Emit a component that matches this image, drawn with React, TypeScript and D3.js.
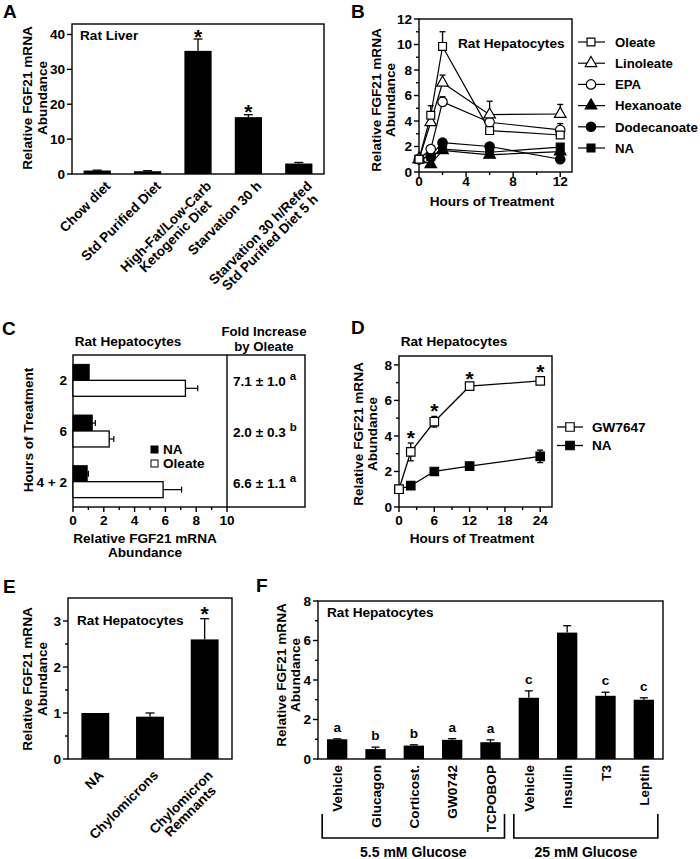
import React from "react";
import * as d3 from "d3";

const FONT = "'Liberation Sans', Arial, Helvetica, sans-serif";
const FS = 13.6;

// ---------------- Panel A data ----------------
const aLabels: string[][] = [
  ["Chow diet"],
  ["Std Purified Diet"],
  ["High-Fat/Low-Carb", "Ketogenic Diet"],
  ["Starvation 30 h"],
  ["Starvation 30 h/Refed", "Std Purified Diet 5 h"],
];
const aValues = [1.0, 0.8, 35.3, 16.3, 3.0];
const aErrors = [0.1, 0.15, 3.4, 0.7, 0.3];
const aStars = [false, false, true, true, false];
const aYTicks = [0, 10, 20, 30, 40];

// ---------------- Panel B data ----------------
const bHours = [0, 1, 2, 6, 12];
const bNames = ["Oleate", "Linoleate", "EPA", "Hexanoate", "Dodecanoate", "NA"];
const bShapes = ["square", "triangle", "circle", "triangle", "circle", "square"];
const bFilled = [false, false, false, true, true, true];
const bOleate = [1.0, 4.45, 9.85, 3.25, 2.9];
const bOleateErr = [0, 0.75, 1.15, 0.15, 0.2];
const bLinoleate = [1.0, 3.9, 7.0, 4.5, 4.55];
const bLinoleateErr = [0, 0.5, 0.6, 1.05, 0.75];
const bEPA = [1.0, 1.8, 5.5, 3.9, 3.3];
const bEPAErr = [0, 0.15, 0.4, 0.2, 0.5];
const bHexanoate = [1.0, 0.6, 1.7, 1.35, 1.6];
const bHexanoateErr = [0, 0.3, 0.1, 0.1, 0.1];
const bDodecanoate = [1.0, 1.3, 2.3, 2.0, 1.0];
const bDodecanoateErr = [0, 0.1, 0.1, 0.1, 0.05];
const bNA = [1.0, 1.2, 1.8, 1.55, 1.95];
const bNAErr = [0, 0.1, 0.1, 0.1, 0.1];
const bXTicks = [0, 4, 8, 12];
const bXMinor = [2, 6, 10];
const bYTicks = [0, 2, 4, 6, 8, 10, 12];
const bYMinor = [1, 3, 5, 7, 9, 11];

// ---------------- Panel C data ----------------
const cCats = ["2", "6", "4 + 2"];
const cNA = [1.05, 1.25, 0.92];
const cNAErr = [0, 0.2, 0.08];
const cOleate = [7.3, 2.35, 5.85];
const cOleateErr = [0.8, 0.3, 1.2];
const cFold = ["7.1 ± 1.0", "2.0 ± 0.3", "6.6 ± 1.1"];
const cFoldSup = ["a", "b", "a"];
const cXTicks = [0, 2, 4, 6, 8, 10];
const cXMinor = [1, 3, 5, 7, 9];

// ---------------- Panel D data ----------------
const dHours = [0, 2, 6, 12, 24];
const dGW = [1.0, 3.1, 4.8, 6.8, 7.1];
const dGWErr = [0, 0.5, 0.3, 0.1, 0.2];
const dNA = [1.0, 1.2, 2.0, 2.3, 2.85];
const dNAErr = [0, 0.05, 0.1, 0.05, 0.35];
const dStars = [false, true, true, true, true];
const dXTicks = [0, 6, 12, 18, 24];
const dXMinor = [3, 9, 15, 21];
const dYTicks = [0, 2, 4, 6, 8];
const dYMinor = [1, 3, 5, 7];

// ---------------- Panel E data ----------------
const eLabels: string[][] = [["NA"], ["Chylomicrons"], ["Chylomicron", "Remnants"]];
const eValues = [1.0, 0.92, 2.6];
const eErrors = [0, 0.08, 0.45];
const eStars = [false, false, true];
const eYTicks = [0, 1, 2, 3];
const eYMinor = [0.5, 1.5, 2.5];

// ---------------- Panel F data ----------------
const fLabels = ["Vehicle", "Glucagon", "Corticost.", "GW0742", "TCPOBOP", "Vehicle", "Insulin", "T3", "Leptin"];
const fValues = [1.0, 0.5, 0.68, 0.97, 0.85, 3.1, 6.4, 3.2, 3.0];
const fErrors = [0.02, 0.1, 0.04, 0.06, 0.12, 0.35, 0.35, 0.18, 0.1];
const fLetters = ["a", "b", "b", "a", "a", "c", "", "c", "c"];
const fGroups = ["5.5 mM Glucose", "25 mM Glucose"];
const fGroupStart = [0, 5];
const fGroupEnd = [4, 8];
const fYTicks = [0, 2, 4, 6, 8];
const fYMinor = [1, 3, 5, 7];

// ------------------------------------------------
let _ctx: CanvasRenderingContext2D | null = null;
function measure(t: string, size = FS) {
  if (!_ctx) _ctx = document.createElement("canvas").getContext("2d");
  if (!_ctx) return t.length * size * 0.55;
  _ctx.font = `bold ${size}px "Liberation Sans", Arial`;
  return _ctx.measureText(t).width;
}

const SW = 1.4;

function symbolPath(shape: string, size: number) {
  const t = shape === "square" ? d3.symbolSquare : shape === "triangle" ? d3.symbolTriangle : d3.symbolCircle;
  return d3.symbol().type(t).size(size)() as string;
}

function YTitle({ x, cy, lines, gap = 14.5 }: { x: number; cy: number; lines: string[]; gap?: number }) {
  return (
    <g transform={`translate(${x},${cy}) rotate(-90)`}>
      {lines.map((l, i) => (
        <text key={i} x={0} y={i * gap} textAnchor="middle" fontSize={FS}>
          {l}
        </text>
      ))}
    </g>
  );
}

function YAxisTicks({ scale, x, ticks, minor = [], lab = true }: any) {
  return (
    <g>
      {ticks.map((t: number) => (
        <g key={"M" + t}>
          <line x1={x - 5} x2={x} y1={scale(t)} y2={scale(t)} stroke="#000" strokeWidth={SW} />
          {lab && (
            <text x={x - 7} y={scale(t)} dy="0.36em" textAnchor="end" fontSize={FS}>
              {t}
            </text>
          )}
        </g>
      ))}
      {minor.map((t: number) => (
        <line key={"m" + t} x1={x - 3} x2={x} y1={scale(t)} y2={scale(t)} stroke="#000" strokeWidth={SW} />
      ))}
    </g>
  );
}

function XAxisTicks({ scale, y, ticks, minor = [], labY }: any) {
  return (
    <g>
      {ticks.map((t: number) => (
        <g key={"M" + t}>
          <line x1={scale(t)} x2={scale(t)} y1={y} y2={y + 5} stroke="#000" strokeWidth={SW} />
          <text x={scale(t)} y={labY} textAnchor="middle" fontSize={FS}>
            {t}
          </text>
        </g>
      ))}
      {minor.map((t: number) => (
        <line key={"m" + t} x1={scale(t)} x2={scale(t)} y1={y} y2={y + 3} stroke="#000" strokeWidth={SW} />
      ))}
    </g>
  );
}

function ErrV({ x, y1, y2, cap = 8 }: { x: number; y1: number; y2: number; cap?: number }) {
  return (
    <g stroke="#000" strokeWidth={1.3}>
      <line x1={x} x2={x} y1={y1} y2={y2} />
      <line x1={x - cap / 2} x2={x + cap / 2} y1={y2} y2={y2} />
    </g>
  );
}

function Star({ x, cy }: { x: number; cy: number }) {
  return (
    <text x={x} y={cy + 11.5} textAnchor="middle" fontSize={21}>
      *
    </text>
  );
}

function RotLabel({ x, y, lines, lh = 13 }: { x: number; y: number; lines: string[]; lh?: number }) {
  const ws = lines.map((l) => measure(l));
  const mx = Math.max(...ws);
  return (
    <g transform={`translate(${x},${y}) rotate(-45)`}>
      {lines.map((l, i) => (
        <text key={i} x={-(mx - ws[i]) / 2} y={i * lh} textAnchor="end" fontSize={FS}>
          {l}
        </text>
      ))}
    </g>
  );
}

function Marker({ x, y, shape, filled, size }: any) {
  return (
    <path
      d={symbolPath(shape, size)}
      transform={`translate(${x},${y})`}
      fill={filled ? "#000" : "#fff"}
      stroke="#000"
      strokeWidth={1.2}
    />
  );
}

export default function App() {
  // ---------- A ----------
  const aX = d3.scaleBand<number>().domain(d3.range(aValues.length)).range([72, 324]).paddingInner(0.46).paddingOuter(0.23);
  const aY = d3.scaleLinear().domain([0, 43]).range([174, 24]);

  // ---------- B ----------
  const bX = d3.scaleLinear().domain([0, 13]).range([419, 572]);
  const bY = d3.scaleLinear().domain([0, 12]).range([172, 19]);
  const bSeries = [bOleate, bLinoleate, bEPA, bHexanoate, bDodecanoate, bNA];
  const bErrs = [bOleateErr, bLinoleateErr, bEPAErr, bHexanoateErr, bDodecanoateErr, bNAErr];
  const bLine = d3
    .line<number>()
    .x((_, i) => bX(bHours[i]))
    .y((d) => bY(d));
  const bMarkSize = (s: string) => (s === "square" ? 62 : s === "circle" ? 70 : 58);
  const bOrder = [3, 4, 5, 2, 1, 0];

  // ---------- C ----------
  const cX = d3.scaleLinear().domain([0, 10]).range([73, 227]);
  const cY = d3.scaleBand<string>().domain(cCats).range([355, 507]).paddingInner(0.37).paddingOuter(0.185);
  const cSub = d3.scaleBand<string>().domain(["NA", "Oleate"]).range([0, cY.bandwidth()]);

  // ---------- D ----------
  const dX = d3.scaleLinear().domain([0, 26]).range([399, 552]);
  const dY = d3.scaleLinear().domain([0, 8.5]).range([507, 356]);
  const dLine = d3
    .line<number>()
    .x((_, i) => dX(dHours[i]))
    .y((d) => dY(d));

  // ---------- E ----------
  const eX = d3.scaleBand<number>().domain(d3.range(eValues.length)).range([68, 232]).paddingInner(0.49).paddingOuter(0.245);
  const eY = d3.scaleLinear().domain([0, 3.5]).range([759, 598]);

  // ---------- F ----------
  const fX = d3.scaleBand<number>().domain(d3.range(fValues.length)).range([318, 663]).paddingInner(0.47).paddingOuter(0.235);
  const fY = d3.scaleLinear().domain([0, 8]).range([759, 601]);
  const fc = (i: number) => (fX(i) as number) + fX.bandwidth() / 2;

  return (
    <svg
      width={700}
      height={859}
      viewBox="0 0 700 859"
      style={{ position: "absolute", left: 0, top: 0, background: "#fff" }}
      fontFamily={FONT}
      fontWeight="bold"
    >
      <rect x={0} y={0} width={700} height={859} fill="#fff" />

      {/* ================= A ================= */}
      <text x={3} y={18} fontSize={19}>A</text>
      <rect x={72} y={24} width={252} height={174 - 24} fill="none" stroke="#000" strokeWidth={SW} />
      <YAxisTicks scale={aY} x={72} ticks={aYTicks} />
      <YTitle x={32} cy={98} lines={["Relative FGF21 mRNA", "Abundance"]} />
      <text x={80} y={40} fontSize={FS}>Rat Liver</text>
      {aValues.map((v, i) => {
        const x = aX(i) as number;
        const w = aX.bandwidth();
        const cx = x + w / 2;
        return (
          <g key={i}>
            <rect x={x} y={aY(v)} width={w} height={aY(0) - aY(v)} fill="#000" />
            <ErrV x={cx} y1={aY(v)} y2={aY(v + aErrors[i])} cap={9} />
            {aStars[i] && <Star x={cx} cy={aY(v + aErrors[i]) - 7} />}
            <RotLabel x={cx + 14} y={187} lines={aLabels[i]} lh={13.5} />
          </g>
        );
      })}

      {/* ================= B ================= */}
      <text x={351} y={18} fontSize={19}>B</text>
      <rect x={419} y={19} width={153} height={172 - 19} fill="none" stroke="#000" strokeWidth={SW} />
      <YAxisTicks scale={bY} x={419} ticks={bYTicks} minor={bYMinor} />
      <XAxisTicks scale={bX} y={172} ticks={bXTicks} minor={bXMinor} labY={186} />
      <YTitle x={381} cy={100} lines={["Relative FGF21 mRNA", "Abundance"]} gap={13.5} />
      <text x={492} y={206} textAnchor="middle" fontSize={FS}>Hours of Treatment</text>
      <text x={458} y={48} fontSize={FS}>Rat Hepatocytes</text>
      {bOrder.map((k) => (
        <g key={"el" + k}>
          {bSeries[k].map((v, i) =>
            bErrs[k][i] > 0 ? <ErrV key={i} x={bX(bHours[i])} y1={bY(v)} y2={bY(v + bErrs[k][i])} cap={6} /> : null
          )}
        </g>
      ))}
      {bOrder.map((k) => (
        <path key={"l" + k} d={bLine(bSeries[k]) as string} fill="none" stroke="#000" strokeWidth={1.2} />
      ))}
      {bOrder.map((k) => (
        <g key={"m" + k}>
          {bSeries[k].map((v, i) => (
            <Marker key={i} x={bX(bHours[i])} y={bY(v)} shape={bShapes[k]} filled={bFilled[k]} size={bMarkSize(bShapes[k])} />
          ))}
        </g>
      ))}
      {bNames.map((n, k) => {
        const y = 42 + k * 21.2;
        return (
          <g key={"lg" + k}>
            <line x1={578} x2={605} y1={y} y2={y} stroke="#000" strokeWidth={1.2} />
            <Marker x={591} y={y} shape={bShapes[k]} filled={bFilled[k]} size={bMarkSize(bShapes[k])} />
            <text x={615} y={y} dy="0.36em" fontSize={13.2}>{n}</text>
          </g>
        );
      })}

      {/* ================= C ================= */}
      <text x={2} y={335} fontSize={19}>C</text>
      <rect x={73} y={355} width={305 - 73} height={507 - 355} fill="none" stroke="#000" strokeWidth={SW} />
      <line x1={227} x2={227} y1={355} y2={507} stroke="#000" strokeWidth={SW} />
      <XAxisTicks scale={cX} y={507} ticks={cXTicks} minor={cXMinor} labY={525} />
      <text x={128} y={346} textAnchor="middle" fontSize={FS}>Rat Hepatocytes</text>
      <text x={264} y={336} textAnchor="middle" fontSize={13.2}>Fold Increase</text>
      <text x={264} y={350.5} textAnchor="middle" fontSize={13.2}>by Oleate</text>
      <YTitle x={33} cy={430} lines={["Hours of Treatment"]} />
      <text x={145} y={543} textAnchor="middle" fontSize={FS}>Relative FGF21 mRNA</text>
      <text x={145} y={557} textAnchor="middle" fontSize={FS}>Abundance</text>
      {cCats.map((c, i) => {
        const y0 = cY(c) as number;
        const h = cSub.bandwidth();
        const yNA = y0 + (cSub("NA") as number);
        const yOl = y0 + (cSub("Oleate") as number);
        return (
          <g key={c}>
            <text x={67} y={y0 + cY.bandwidth() / 2} dy="0.36em" textAnchor="end" fontSize={FS}>{c}</text>
            <rect x={cX(0)} y={yNA} width={cX(cNA[i]) - cX(0)} height={h} fill="#000" stroke="#000" strokeWidth={1} />
            <rect x={cX(0)} y={yOl} width={cX(cOleate[i]) - cX(0)} height={h} fill="#fff" stroke="#000" strokeWidth={1.3} />
            {cNAErr[i] > 0 && (
              <g stroke="#000" strokeWidth={1.2}>
                <line x1={cX(cNA[i])} x2={cX(cNA[i] + cNAErr[i])} y1={yNA + h / 2} y2={yNA + h / 2} />
                <line x1={cX(cNA[i] + cNAErr[i])} x2={cX(cNA[i] + cNAErr[i])} y1={yNA + h / 2 - 3} y2={yNA + h / 2 + 3} />
              </g>
            )}
            <g stroke="#000" strokeWidth={1.2}>
              <line x1={cX(cOleate[i])} x2={cX(cOleate[i] + cOleateErr[i])} y1={yOl + h / 2} y2={yOl + h / 2} />
              <line x1={cX(cOleate[i] + cOleateErr[i])} x2={cX(cOleate[i] + cOleateErr[i])} y1={yOl + h / 2 - 3} y2={yOl + h / 2 + 3} />
            </g>
            <text x={233} y={y0 + cY.bandwidth() / 2 + 6} fontSize={FS}>
              {cFold[i]}
              <tspan dx={4} dy={-6} fontSize={11.5}>{cFoldSup[i]}</tspan>
            </text>
          </g>
        );
      })}
      <rect x={151} y={446} width={7} height={7} fill="#000" stroke="#000" strokeWidth={1} />
      <text x={163} y={449.5} dy="0.36em" fontSize={FS}>NA</text>
      <rect x={151} y={460} width={7} height={7} fill="#fff" stroke="#000" strokeWidth={1} />
      <text x={163} y={463.5} dy="0.36em" fontSize={FS}>Oleate</text>

      {/* ================= D ================= */}
      <text x={351} y={334} fontSize={19}>D</text>
      <text x={454} y={346} textAnchor="middle" fontSize={FS}>Rat Hepatocytes</text>
      <rect x={399} y={356} width={552 - 399} height={507 - 356} fill="none" stroke="#000" strokeWidth={SW} />
      <YAxisTicks scale={dY} x={399} ticks={dYTicks} minor={dYMinor} />
      <XAxisTicks scale={dX} y={507} ticks={dXTicks} minor={dXMinor} labY={525} />
      <YTitle x={363} cy={434} lines={["Relative FGF21 mRNA", "Abundance"]} gap={14} />
      <text x={472} y={543} textAnchor="middle" fontSize={FS}>Hours of Treatment</text>
      {[dNA, dGW].map((s, k) => {
        const errs = k === 0 ? dNAErr : dGWErr;
        return (
          <g key={"de" + k}>
            {s.map((v, i) =>
              errs[i] > 0 ? <ErrV key={i} x={dX(dHours[i])} y1={dY(v - errs[i])} y2={dY(v + errs[i])} cap={6} /> : null
            )}
            {s.map((v, i) =>
              errs[i] > 0 ? <line key={"lo" + i} x1={dX(dHours[i]) - 3} x2={dX(dHours[i]) + 3} y1={dY(v - errs[i])} y2={dY(v - errs[i])} stroke="#000" strokeWidth={1.3} /> : null
            )}
            <path d={dLine(s) as string} fill="none" stroke="#000" strokeWidth={1.3} />
            {s.map((v, i) => (
              <Marker key={i} x={dX(dHours[i])} y={dY(v)} shape="square" filled={k === 0} size={72} />
            ))}
          </g>
        );
      })}
      {dGW.map((v, i) => (dStars[i] ? <Star key={i} x={dX(dHours[i])} cy={dY(v + dGWErr[i]) - 10} /> : null))}
      {["GW7647", "NA"].map((n, k) => {
        const y = 427 + k * 18.5;
        return (
          <g key={n}>
            <line x1={557} x2={583} y1={y} y2={y} stroke="#000" strokeWidth={1.3} />
            <Marker x={570} y={y} shape="square" filled={k === 1} size={72} />
            <text x={592} y={y} dy="0.36em" fontSize={FS}>{n}</text>
          </g>
        );
      })}

      {/* ================= E ================= */}
      <text x={3} y={593} fontSize={19}>E</text>
      <rect x={68} y={598} width={232 - 68} height={759 - 598} fill="none" stroke="#000" strokeWidth={SW} />
      <YAxisTicks scale={eY} x={68} ticks={eYTicks} minor={eYMinor} />
      <YTitle x={32} cy={679} lines={["Relative FGF21 mRNA", "Abundance"]} />
      <text x={77} y={625} fontSize={FS}>Rat Hepatocytes</text>
      {eValues.map((v, i) => {
        const x = eX(i) as number;
        const w = eX.bandwidth();
        const cx = x + w / 2;
        return (
          <g key={i}>
            <rect x={x} y={eY(v)} width={w} height={eY(0) - eY(v)} fill="#000" />
            {eErrors[i] > 0 && <ErrV x={cx} y1={eY(v)} y2={eY(v + eErrors[i])} cap={9} />}
            {eStars[i] && <Star x={cx} cy={eY(v + eErrors[i]) - 9} />}
            <RotLabel x={cx + 9} y={776} lines={eLabels[i]} lh={13} />
          </g>
        );
      })}

      {/* ================= F ================= */}
      <text x={256} y={592} fontSize={19}>F</text>
      <rect x={318} y={601} width={663 - 318} height={759 - 601} fill="none" stroke="#000" strokeWidth={SW} />
      <YAxisTicks scale={fY} x={318} ticks={fYTicks} minor={fYMinor} />
      <YTitle x={286} cy={675} lines={["Relative FGF21 mRNA", "Abundance"]} gap={13.5} />
      <text x={327} y={617} fontSize={FS}>Rat Hepatocytes</text>
      {fValues.map((v, i) => {
        const x = fX(i) as number;
        const w = fX.bandwidth();
        const cx = x + w / 2;
        const top = fY(v + fErrors[i]);
        return (
          <g key={i}>
            <rect x={x} y={fY(v)} width={w} height={fY(0) - fY(v)} fill="#000" />
            <ErrV x={cx} y1={fY(v)} y2={top} cap={8} />
            {fLetters[i] && (
              <text x={cx} y={top - 7} textAnchor="middle" fontSize={FS}>{fLetters[i]}</text>
            )}
            <g transform={`translate(${cx + 5},${765}) rotate(-90)`}>
              <text x={0} y={0} textAnchor="end" fontSize={FS}>{fLabels[i]}</text>
            </g>
          </g>
        );
      })}
      {fGroups.map((g, k) => {
        const x1 = fc(fGroupStart[k]) - 15;
        const x2 = fc(fGroupEnd[k]) + 14;
        return (
          <g key={g}>
            <path d={`M${x1},814V838H${x2}V814`} fill="none" stroke="#000" strokeWidth={1.6} />
            <text x={(x1 + x2) / 2} y={857} textAnchor="middle" fontSize={14}>{g}</text>
          </g>
        );
      })}
    </svg>
  );
}
